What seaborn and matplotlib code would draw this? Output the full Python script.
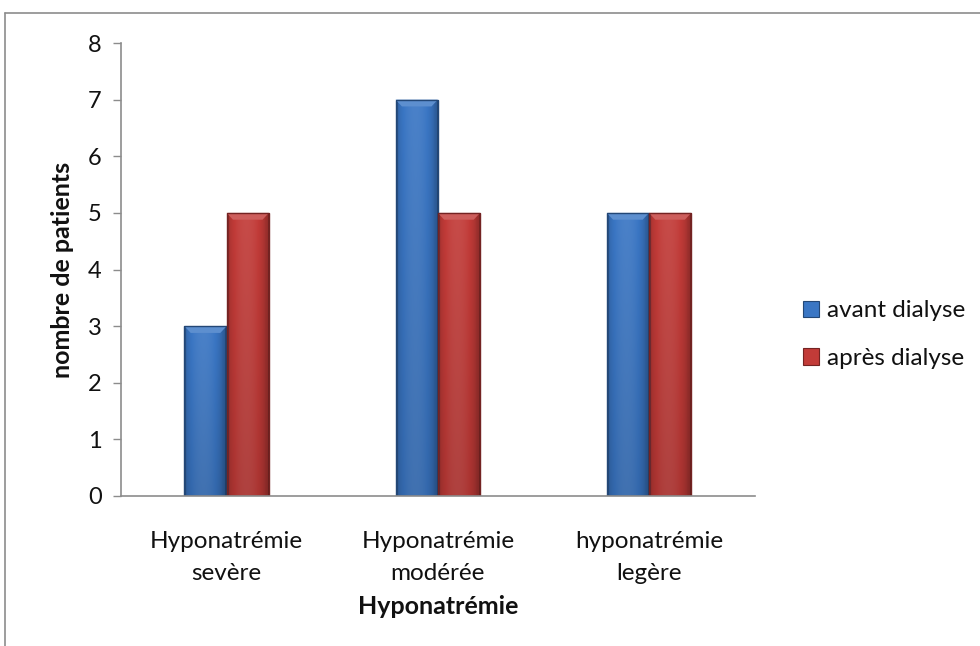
import numpy as np
import pandas as pd
import matplotlib
matplotlib.use("Agg")
import matplotlib.pyplot as plt
from matplotlib.lines import Line2D
import matplotlib.colors as mcolors
import seaborn as sns

categories = ["Hyponatrémie\nsevère", "Hyponatrémie\nmodérée", "hyponatrémie\nlegère"]
avant_dialyse = [3, 7, 5]
apres_dialyse = [5, 5, 5]
series_names = ["avant dialyse", "après dialyse"]
y_ticks = [0, 1, 2, 3, 4, 5, 6, 7, 8]

df = pd.DataFrame({
    "categorie": categories * 2,
    "valeur": avant_dialyse + apres_dialyse,
    "serie": [series_names[0]] * 3 + [series_names[1]] * 3,
})

sns.set_theme(style="white")
plt.rcParams["font.family"] = ["Lato", "DejaVu Sans"]

base_colors = {"avant dialyse": "#3a76c4", "après dialyse": "#c23b38"}

fig = plt.figure(figsize=(9.8, 6.46), dpi=100)
ax = fig.add_axes([0.1235, 0.2322, 0.6465, 0.7012])

sns.barplot(data=df, x="categorie", y="valeur", hue="serie",
            palette=base_colors, width=0.4, ax=ax, legend=False,
            edgecolor="none", linewidth=0, saturation=1)

def shade(c, f):
    r, g, b = mcolors.to_rgb(c)
    if f < 1:
        return (r * f, g * f, b * f)
    return (r + (1 - r) * (f - 1), g + (1 - g) * (f - 1), b + (1 - b) * (f - 1))

# bevelled look: horizontal gradient plus lighter cap and darker rim
for patch in list(ax.patches):
    fc = patch.get_facecolor()
    x0, y0 = patch.get_x(), patch.get_y()
    w, h = patch.get_width(), patch.get_height()
    if h <= 0:
        continue
    n = 64
    t = np.linspace(0, 1, n)
    prof = 0.80 + 0.28 * np.sin(np.pi * np.clip(t * 1.1, 0, 1)) ** 0.6
    prof[:3] = 0.66
    prof[-3:] = 0.58
    cols = np.array([shade(fc, p) for p in prof])
    vert = np.linspace(0.88, 1.0, 32)[:, None, None]
    img = np.clip(cols[None, :, :] * vert, 0, 1)
    im = ax.imshow(img, extent=[x0, x0 + w, y0, y0 + h], origin="lower",
                   aspect="auto", zorder=patch.get_zorder() + 0.1,
                   interpolation="bilinear")
    im.set_clip_path(patch)
    cap = 0.12
    xs = [x0, x0 + w, x0 + w * 0.85, x0 + w * 0.15]
    ys = [y0 + h, y0 + h, y0 + h - cap, y0 + h - cap]
    ax.fill(xs, ys, color=shade(fc, 1.18), zorder=patch.get_zorder() + 0.2, lw=0)
    ax.add_patch(plt.Rectangle((x0, y0), w, h, fill=False,
                               edgecolor=shade(fc, 0.6), lw=1.0,
                               zorder=patch.get_zorder() + 0.3))

ax.set_xlim(-0.5, 2.5)
ax.set_ylim(0, 8)
ax.set_yticks(y_ticks)
ax.set_yticklabels([str(v) for v in y_ticks], fontsize=17, color="#111111")
ax.tick_params(axis="y", which="major", left=True, length=6, width=1,
               color="#8c8c8c", pad=8)
ax.tick_params(axis="x", bottom=False, labelsize=17.5, pad=19,
               labelcolor="#111111")
for lbl in ax.get_xticklabels():
    lbl.set_linespacing(1.65)

for side in ["top", "right"]:
    ax.spines[side].set_visible(False)
for side in ["left", "bottom"]:
    ax.spines[side].set_color("#8c8c8c")
    ax.spines[side].set_linewidth(1.2)

ax.set_xlabel("Hyponatrémie", fontsize=18, fontweight="bold", labelpad=8,
              color="#111111")
ax.set_ylabel("nombre de patients", fontsize=18, fontweight="bold",
              labelpad=10, color="#111111")

handles = [plt.Rectangle((0, 0), 1, 1, facecolor=base_colors[s],
                         edgecolor=shade(base_colors[s], 0.6), lw=0.8)
           for s in series_names]
fig.legend(handles, series_names, loc="center left",
           bbox_to_anchor=(0.797, 0.482), frameon=False, fontsize=17.5,
           handlelength=0.65, handleheight=0.65, handletextpad=0.35,
           labelspacing=1.1, labelcolor="#111111")

# outer frame of the chart area
fig.add_artist(Line2D([0.005, 1.0], [0.98, 0.98], transform=fig.transFigure,
                      color="#8c8c8c", lw=1.2))
fig.add_artist(Line2D([0.005, 0.005], [0.0, 0.98], transform=fig.transFigure,
                      color="#8c8c8c", lw=1.2))

fig.savefig("out.png", dpi=100)
